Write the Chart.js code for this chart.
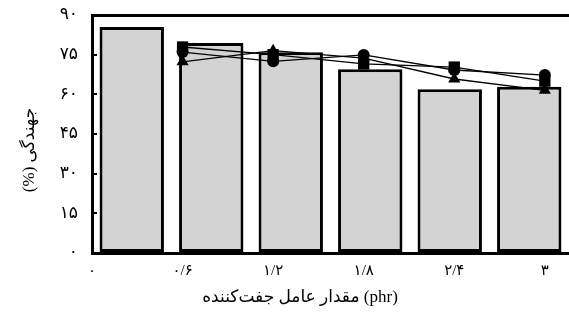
<!DOCTYPE html>
<html lang="fa">
<head>
<meta charset="UTF-8">
<title>جهندگی</title>
<script src="https://cdn.jsdelivr.net/npm/chart.js"></script>
<style>
    html, body { margin: 0; padding: 0; background: #fff; }
    #wrap { width: 569px; height: 316px; }
</style>
</head>
<body>
<div id="wrap"><canvas id="chart" width="569" height="316"></canvas></div>
<script>
    // bars (category axis) and the three line series (linear x axis)
    const barLabels = ['0', '0.6', '1.2', '1.8', '2.4', '3'];
    const barValues = [85.5, 79.4, 75.9, 69.5, 61.9, 62.9];
    const lineX = [0.6, 1.2, 1.8, 2.4, 3];
    const squareValues = [77.9, 75, 71.5, 70.3, 65];
    const circleValues = [76, 72.5, 74.9, 69.2, 67.3];
    const triangleValues = [72.3, 76.5, 73.7, 65.8, 61.5];

    const xTicks = [0, 0.6, 1.2, 1.8, 2.4, 3];
    const xTickLabels = ['۰', '۰/۶', '۱/۲', '۱/۸', '۲/۴', '۳'];
    const yTicks = [0, 15, 30, 45, 60, 75, 90];
    const yTickLabels = ['۰', '۱۵', '۳۰', '۴۵', '۶۰', '۷۵', '۹۰'];

    const xTitle = '\u202Aمقدار عامل جفت\u200cکننده (phr)\u202C';
    const yTitle = '\u202Bجهندگی (%)\u202C';

    const family = "'Liberation Serif', 'DejaVu Sans', serif";

    function pairs(ys) {
        return lineX.map((x, i) => ({ x: x, y: ys[i] }));
    }

    function lineSet(label, ys, style, radius) {
        return {
            type: 'line',
            label: label,
            xAxisID: 'x',
            yAxisID: 'y',
            data: pairs(ys),
            borderColor: '#000',
            borderWidth: 1.3,
            backgroundColor: '#000',
            pointStyle: style,
            pointRadius: radius,
            pointBorderWidth: 0,
            fill: false,
            tension: 0,
            order: 1
        };
    }

    // no extra label padding around the plot, the frame is fixed
    function noPadding(s) {
        s.paddingTop = 0;
        s.paddingBottom = 0;
        s.paddingLeft = 0;
        s.paddingRight = 0;
    }

    // axis titles placed by hand like in the source figure
    const axisTitles = {
        id: 'axisTitles',
        afterDraw(chart) {
            const ctx = chart.ctx;
            const a = chart.chartArea;
            ctx.save();
            ctx.direction = 'ltr';
            ctx.fillStyle = '#000';
            ctx.font = '17px ' + family;
            ctx.textAlign = 'center';
            ctx.textBaseline = 'middle';
            ctx.fillText(xTitle, a.left + 208, 298);
            ctx.translate(30, 150);
            ctx.rotate(-Math.PI / 2);
            ctx.fillText(yTitle, 0, 0);
            ctx.restore();
        }
    };

    new Chart(document.getElementById('chart'), {
        type: 'bar',
        data: {
            labels: barLabels,
            datasets: [
                lineSet('square', squareValues, 'rect', 8),
                lineSet('circle', circleValues, 'circle', 6),
                lineSet('triangle', triangleValues, 'triangle', 7),
                {
                    type: 'bar',
                    label: 'bars',
                    xAxisID: 'xb',
                    yAxisID: 'y',
                    data: barValues,
                    backgroundColor: '#d3d3d3',
                    borderColor: '#000',
                    borderWidth: 3,
                    borderSkipped: false,
                    grouped: false,
                    barPercentage: 0.81,
                    categoryPercentage: 1,
                    order: 10
                }
            ]
        },
        options: {
            responsive: false,
            animation: false,
            layout: { padding: 0, autoPadding: false },
            plugins: { legend: { display: false }, tooltip: { enabled: false } },
            scales: {
                x: {
                    type: 'linear',
                    position: 'bottom',
                    offset: false,
                    min: 0,
                    max: 3.16,
                    afterBuildTicks: s => { s.ticks = xTicks.map(v => ({ value: v })); },
                    afterFit: s => { s.height = 63; noPadding(s); },
                    ticks: {
                        callback: (v, i) => xTickLabels[i],
                        color: '#000',
                        font: { family: family, size: 15 },
                        padding: 14,
                        maxRotation: 0,
                        autoSkip: false
                    },
                    grid: { offset: false, drawOnChartArea: false, drawTicks: true, tickLength: -5, color: '#000', lineWidth: 2 },
                    border: { color: '#000', width: 3 }
                },
                xb: {
                    type: 'category',
                    labels: barLabels,
                    display: false,
                    offset: true
                },
                xt: {
                    type: 'linear',
                    position: 'top',
                    offset: false,
                    min: 0,
                    max: 1,
                    afterFit: s => { s.height = 15; noPadding(s); },
                    ticks: { display: false },
                    grid: { offset: false, drawOnChartArea: false, drawTicks: false },
                    border: { color: '#000', width: 3 }
                },
                y: {
                    min: 0,
                    max: 90,
                    afterBuildTicks: s => { s.ticks = yTicks.map(v => ({ value: v })); },
                    afterFit: s => { s.width = 92; noPadding(s); },
                    ticks: {
                        callback: (v, i) => yTickLabels[i],
                        color: '#000',
                        font: { family: family, size: 17 },
                        padding: 19
                    },
                    grid: { drawOnChartArea: false, drawTicks: true, tickLength: -5, color: '#000', lineWidth: 2 },
                    border: { color: '#000', width: 3 }
                }
            }
        },
        plugins: [axisTitles]
    });
</script>
</body>
</html>
